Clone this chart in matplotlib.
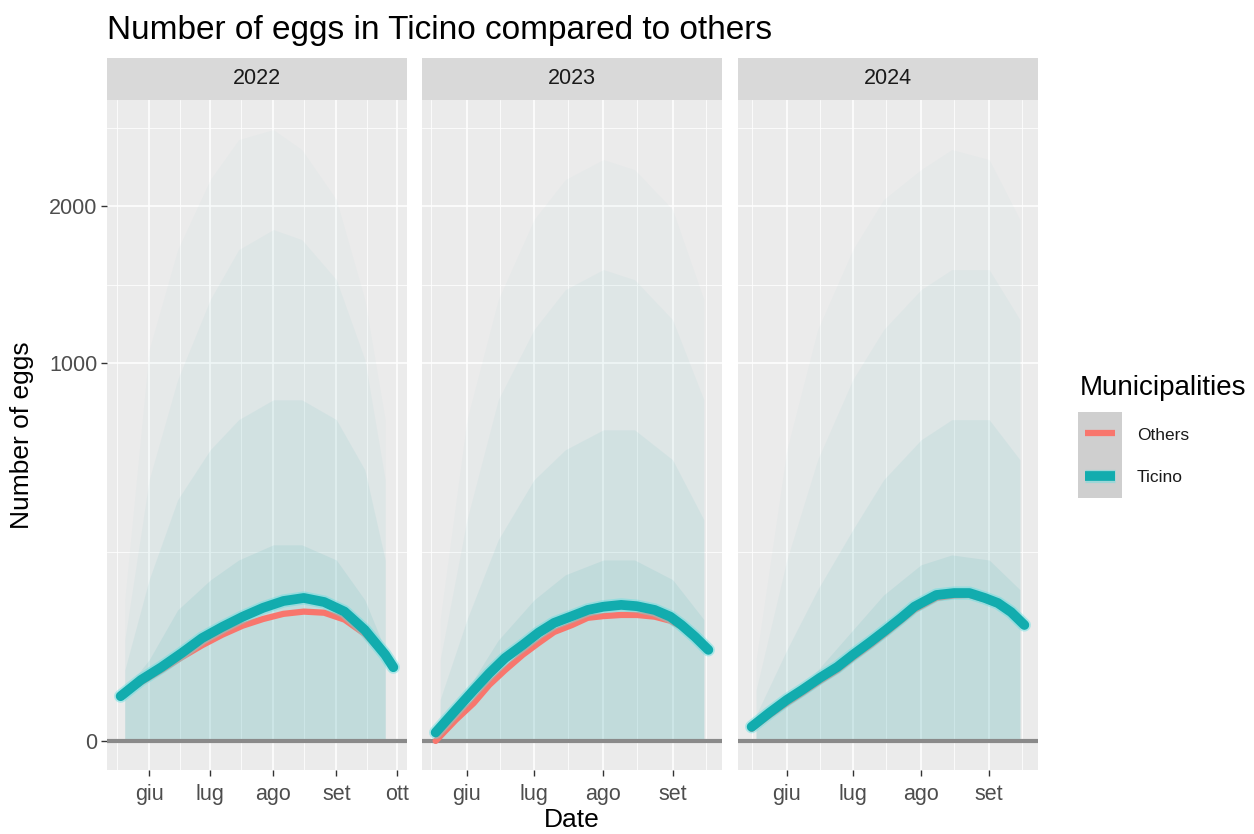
import numpy as np
import pandas as pd
import matplotlib
matplotlib.use('Agg')
import matplotlib.pyplot as plt
import matplotlib.dates as mdates
from matplotlib.ticker import FixedLocator, FuncFormatter, NullFormatter

plt.rcParams['font.family'] = ['Liberation Sans', 'DejaVu Sans']

# ---- data (eggs per trap, smoothed curves)
years = ['2022', '2023', '2024']

dates_2022 = ['2022-05-18', '2022-05-28', '2022-06-07', '2022-06-17', '2022-06-27',
              '2022-07-07', '2022-07-17', '2022-07-27', '2022-08-06', '2022-08-16',
              '2022-08-26', '2022-09-05', '2022-09-15', '2022-09-25', '2022-09-29']
ticino_2022 = [14, 26, 38, 54, 74, 91, 108, 124, 137, 143, 135, 117, 86, 52, 38]
others_2022 = [14, 24, 35, 49, 64, 79, 93, 104, 113, 117, 115, 103, 80, 51, 39]

dates_2023 = ['2023-05-18', '2023-05-27', '2023-06-04', '2023-06-11', '2023-06-18',
              '2023-06-26', '2023-07-03', '2023-07-10', '2023-07-18', '2023-07-25',
              '2023-08-01', '2023-08-09', '2023-08-16', '2023-08-24', '2023-08-31',
              '2023-09-05', '2023-09-11', '2023-09-17']
ticino_2023 = [0.5, 6.7, 18, 32, 48, 64.5, 82, 97.5, 109, 120, 126, 129.5, 127, 120,
               108, 94, 76, 58]
others_2023 = [0, 3.1, 10, 22, 35, 52, 67, 83, 94, 106, 109, 111, 111, 108, 101, 91,
               74, 57]

dates_2024 = ['2024-05-16', '2024-05-24', '2024-06-01', '2024-06-08', '2024-06-16',
              '2024-06-24', '2024-07-01', '2024-07-09', '2024-07-16', '2024-07-23',
              '2024-07-29', '2024-08-08', '2024-08-16', '2024-08-23', '2024-08-30',
              '2024-09-05', '2024-09-11', '2024-09-17']
ticino_2024 = [1.4, 5.5, 11.8, 18.2, 27.8, 38.3, 51.8, 68.6, 86, 106, 126, 149, 153,
               153, 143, 133, 116, 94]
others_2024 = [1.0, 4.5, 10, 16, 25, 35, 48, 64, 81, 101, 120, 143, 148, 149, 140,
               130, 114, 93]

# ---- envelope of the single trap traces (faint cloud), four levels
band_dates_2022 = ['2022-05-20', '2022-06-01', '2022-06-15', '2022-07-01', '2022-07-15',
                   '2022-08-01', '2022-08-15', '2022-09-01', '2022-09-15', '2022-09-25']
band_a_2022 = [18, 46, 120, 181, 229, 269, 269, 229, 139, 58]
band_b_2022 = [35, 182, 407, 593, 722, 814, 814, 722, 514, 229]
band_c_2022 = [71, 477, 913, 1362, 1688, 1829, 1758, 1488, 1017, 477]
band_d_2022 = [139, 1071, 1688, 2204, 2529, 2614, 2446, 2050, 1362, 722]

band_dates_2023 = ['2023-05-20', '2023-06-01', '2023-06-15', '2023-07-01', '2023-07-15',
                   '2023-08-01', '2023-08-15', '2023-09-01', '2023-09-15']
band_a_2023 = [1.8, 18, 71, 139, 193, 229, 229, 182, 103]
band_b_2023 = [12, 103, 283, 477, 593, 677, 677, 553, 342]
band_c_2023 = [46, 342, 814, 1183, 1424, 1554, 1488, 1241, 814]
band_d_2023 = [103, 722, 1362, 1901, 2204, 2364, 2283, 1975, 1362]

band_dates_2024 = ['2024-05-18', '2024-06-01', '2024-06-15', '2024-07-01', '2024-07-15',
                   '2024-08-01', '2024-08-15', '2024-09-01', '2024-09-15']
band_a_2024 = [0.85, 9.1, 35, 86, 149, 217, 242, 229, 160]
band_b_2024 = [4.7, 58, 160, 312, 477, 634, 722, 722, 553]
band_c_2024 = [18, 229, 553, 913, 1183, 1424, 1554, 1554, 1241]
band_d_2024 = [46, 593, 1183, 1688, 2050, 2283, 2446, 2364, 1901]

y_breaks = [0, 1000, 2000]
month_labels = ['gen', 'feb', 'mar', 'apr', 'mag', 'giu', 'lug', 'ago', 'set',
                'ott', 'nov', 'dic']

curves = {
    '2022': (dates_2022, ticino_2022, others_2022),
    '2023': (dates_2023, ticino_2023, others_2023),
    '2024': (dates_2024, ticino_2024, others_2024),
}
bands = {
    '2022': (band_dates_2022, [band_d_2022, band_c_2022, band_b_2022, band_a_2022]),
    '2023': (band_dates_2023, [band_d_2023, band_c_2023, band_b_2023, band_a_2023]),
    '2024': (band_dates_2024, [band_d_2024, band_c_2024, band_b_2024, band_a_2024]),
}

# ---- colours
TEAL = '#12acae'
TEAL_GLOW = '#63dfe2'
RED = '#F8766D'
HAZE = '#58b4b9'
PANEL_BG = '#EBEBEB'
STRIP_BG = '#D9D9D9'
TXT = '#4D4D4D'


def fwd(v):
    v = np.asarray(v, dtype=float)
    return np.sign(v) * np.sqrt(np.abs(v))


def inv(v):
    v = np.asarray(v, dtype=float)
    return np.sign(v) * v * v


def month_fmt(x, pos):
    return month_labels[mdates.num2date(x).month - 1]


W, H = 1254, 834
fig = plt.figure(figsize=(W / 100, H / 100), dpi=100)

panel_left = [107, 422, 738]
panel_w = 300
panel_top, panel_bottom, strip_top = 100, 770, 58

y_lo, y_hi = -5.9, 2873
# minor breaks sit halfway between the majors in sqrt space
y_minor = [250, 1457, 2630]

line_kw = dict(solid_capstyle='round', solid_joinstyle='round')

for i, yr in enumerate(years):
    left = panel_left[i] / W
    ax = fig.add_axes([left, 1 - panel_bottom / H, panel_w / W,
                       (panel_bottom - panel_top) / H])
    ax.set_facecolor(PANEL_BG)
    ax.set_yscale('function', functions=(fwd, inv))

    d, tic, oth = curves[yr]
    d = pd.to_datetime(d)
    bd, levels = bands[yr]
    bd = pd.to_datetime(bd)

    # ---- haze of the individual traces
    alphas = [0.03, 0.05, 0.09, 0.13]
    for lev, a in zip(levels, alphas):
        ax.fill_between(bd, 0, lev, color=HAZE, alpha=a, lw=0, zorder=1)

    ax.axhline(0, color='#8a8a8a', lw=3, zorder=2)

    # ---- smoothed curves
    ax.plot(d, oth, color=RED, lw=4.5, zorder=3, **line_kw)
    ax.plot(d, tic, color=TEAL_GLOW, lw=9.5, alpha=0.45, zorder=4, **line_kw)
    ax.plot(d, tic, color=TEAL, lw=7, zorder=5, **line_kw)

    # ---- free x scale with 5% expansion
    x0, x1 = mdates.date2num(d.min()), mdates.date2num(d.max())
    pad = (x1 - x0) * 0.05
    ax.set_xlim(x0 - pad, x1 + pad)
    ax.set_ylim(y_lo, y_hi)

    ax.xaxis.set_major_locator(mdates.MonthLocator())
    ax.xaxis.set_minor_locator(mdates.MonthLocator(bymonthday=16))
    ax.xaxis.set_major_formatter(FuncFormatter(month_fmt))
    ax.xaxis.set_minor_formatter(NullFormatter())
    ax.yaxis.set_major_locator(FixedLocator(y_breaks))
    ax.yaxis.set_minor_locator(FixedLocator(y_minor))
    ax.yaxis.set_minor_formatter(NullFormatter())

    ax.grid(which='major', color='white', lw=1.1, zorder=0)
    ax.grid(which='minor', color='white', lw=0.55, zorder=0)
    ax.set_axisbelow(True)
    for s in ax.spines.values():
        s.set_visible(False)

    ax.tick_params(axis='x', which='major', labelsize=15.5, labelcolor=TXT,
                   color='#333333', length=4, width=1, pad=6)
    ax.tick_params(which='minor', length=0)
    if i == 0:
        ax.tick_params(axis='y', which='major', labelsize=15.5, labelcolor=TXT,
                       color='#333333', length=4, width=1, pad=3)
    else:
        ax.tick_params(axis='y', which='major', length=0, labelleft=False)

    # ---- strip on top of the facet
    sax = fig.add_axes([left, 1 - panel_top / H, panel_w / W,
                        (panel_top - strip_top) / H])
    sax.set_facecolor(STRIP_BG)
    sax.set_xticks([])
    sax.set_yticks([])
    for s in sax.spines.values():
        s.set_visible(False)
    sax.text(0.5, 0.5, yr, ha='center', va='center', fontsize=15.5,
             color='#1A1A1A', transform=sax.transAxes)

# ---- titles
fig.text(107 / W, 1 - 31 / H, 'Number of eggs in Ticino compared to others',
         fontsize=24, ha='left', va='center', color='black')
fig.text(572 / W, 1 - 820 / H, 'Date', fontsize=19, ha='center', va='center')
fig.text(22 / W, 1 - 435 / H, 'Number of eggs', fontsize=19, rotation=90,
         ha='center', va='center')

# ---- legend
fig.text(1080 / W, 1 - 388 / H, 'Municipalities', fontsize=20, ha='left',
         va='center')
kax = fig.add_axes([1078 / W, 1 - 498 / H, 44 / W, 86 / H])
kax.set_facecolor('#CFCFCF')
kax.set_xlim(0, 1)
kax.set_ylim(0, 2)
kax.plot([0.15, 0.85], [1.5, 1.5], color=RED, lw=4.5, solid_capstyle='butt')
kax.plot([0.15, 0.85], [0.5, 0.5], color=TEAL_GLOW, lw=9.5, alpha=0.45,
         solid_capstyle='butt')
kax.plot([0.15, 0.85], [0.5, 0.5], color=TEAL, lw=7, solid_capstyle='butt')
kax.set_xticks([])
kax.set_yticks([])
for s in kax.spines.values():
    s.set_visible(False)
fig.text(1137 / W, 1 - 435 / H, 'Others', fontsize=12.5, ha='left', va='center',
         color='#1A1A1A')
fig.text(1137 / W, 1 - 478 / H, 'Ticino', fontsize=12.5, ha='left', va='center',
         color='#1A1A1A')

fig.savefig('out.png', dpi=100)
